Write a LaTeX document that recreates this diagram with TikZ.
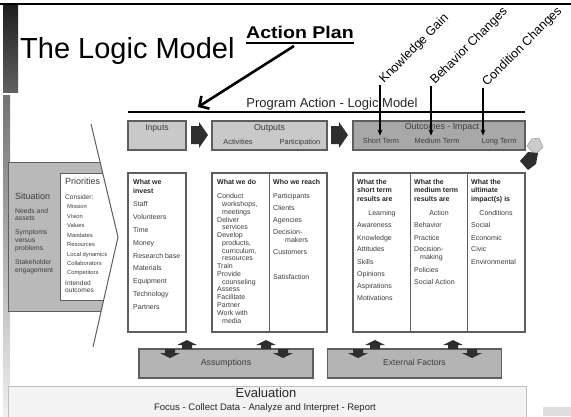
\documentclass[tikz,border=0pt]{standalone}
\usepackage{fontspec}
\setmainfont{Liberation Sans}
\usetikzlibrary{arrows.meta,calc}
\newcommand\fsz[1]{\fontsize{#1}{#1}\selectfont}
\definecolor{txt}{HTML}{3C3C3C}
\definecolor{hdrfill}{HTML}{C9C9C9}
\definecolor{ocfill}{HTML}{A8A8A8}
\definecolor{sitfill}{HTML}{B9B9B9}
\definecolor{asfill}{HTML}{B4B4B4}
\definecolor{edge}{HTML}{5E5E5E}
\definecolor{arrowdk}{HTML}{2E2E2E}
\definecolor{evfill}{HTML}{F3F3F3}
\tikzset{
  itm/.style={font=\fsz{7}, text=txt, anchor=west, inner sep=0pt, text height=5pt, text depth=1.5pt},
  hdg/.style={itm, font=\fsz{7}\bfseries, text=black!85},
  ctr/.style={itm, anchor=center},
  sml/.style={itm, font=\fsz{5.8}},
  hbox/.style={draw=edge, line width=1.1pt, fill=hdrfill, minimum height=29pt, inner sep=0pt},
  cbox/.style={draw=edge, line width=1.1pt, fill=white, minimum height=159pt, inner sep=0pt},
  abox/.style={draw=edge, line width=1.1pt, fill=asfill, minimum height=29pt, minimum width=174pt, inner sep=0pt},
  outl/.style={draw=edge, line width=1pt},
  varrow/.style={line width=1.4pt, -{Stealth[length=6pt,width=5pt]}},
  uparr/.pic={\fill[arrowdk] (-10,5) -- (0,0) -- (10,5) -- (5,5) -- (5,9) -- (-5,9) -- (-5,5) -- cycle;},
  dnarr/.pic={\fill[arrowdk] (-5,0) -- (5,0) -- (5,4) -- (10,4) -- (0,9) -- (-10,4) -- (-5,4) -- cycle;}
}
\begin{document}
\begin{tikzpicture}[x=1pt,y=-1pt]
\useasboundingbox[fill=white] (0,0) rectangle (571,416);

% slide frame: side bars and top rule
\shade[top color=black!88, bottom color=black!62] (3,5) rectangle (18,92);
\shade[top color=black!55, bottom color=black!6] (3,95) rectangle (10,416);
\draw[line width=2pt] (0,4) -- (571,4);

% title and the plan label
\node[font=\fsz{29}, anchor=base west, inner sep=0pt] (title) at (20,58) {The Logic Model};
\node[font=\fsz{17}\bfseries, anchor=base west, inner sep=0pt] (ap) at (246,38) {\scalebox{1.15}[1]{Action Plan}};
\draw[line width=2pt] ([yshift=-5pt]ap.base west) -- ([yshift=-5pt]ap.base east);

% program action heading and rule
\node[font=\fsz{13}, anchor=base, inner sep=0pt, text=black!85] (pa) at (332,107) {Program Action - Logic Model};
\coordinate (pl) at (128,112);
\coordinate (pr) at (525,112);
\draw[line width=1.8pt] (pl) -- (pr);
\coordinate (apstart) at (294,46);
\coordinate (apend) at (198,107);
\draw[line width=2.6pt, -{Straight Barb[length=7pt,width=15pt]}] (apstart) -- (apend);

% header row
\node[hbox, minimum width=58pt] (inph) at (157,135.5) {};
\node[hbox, minimum width=115pt] (outh) at (269.5,135.5) {};
\node[hbox, minimum width=172pt, fill=ocfill] (och) at (439,135.5) {};
\fill[arrowdk] (191,126) -- (199,126) -- (199,122) -- (208,135) -- (199,148) -- (199,144) -- (191,144) -- cycle;
\fill[arrowdk] (331,126) -- (339,126) -- (339,122) -- (348,135) -- (339,148) -- (339,144) -- (331,144) -- cycle;
\node[ctr, font=\fsz{8.6}] (tin) at (157,129) {Inputs};
\node[ctr, font=\fsz{8.8}] (tout) at (269.5,129) {Outputs};
\node[ctr, font=\fsz{7.4}] (tact) at (238,143) {Activities};
\node[ctr, font=\fsz{7.4}] (tpar) at (300,143) {Participation};
\node[ctr, font=\fsz{8.8}] (toc) at (442,128) {Outcomes - Impact};
\node[ctr, font=\fsz{7.4}] (st) at (381,142) {Short Term};
\node[ctr, font=\fsz{7.4}] (mt) at (437,142) {Medium Term};
\node[ctr, font=\fsz{7.4}] (lt) at (499,142) {Long Term};

% change labels with pointers
\node[font=\fsz{12.5}, anchor=base west, inner sep=0pt, rotate=45] (kgl) at (384,84) {Knowledge Gain};
\node[font=\fsz{12.5}, anchor=base west, inner sep=0pt, rotate=45] (bcl) at (435,85) {Behavior Changes};
\node[font=\fsz{12.5}, anchor=base west, inner sep=0pt, rotate=45] (ccl) at (487,87) {Condition Changes};
\coordinate (kg) at (380,85);
\coordinate (bc) at (431,86);
\coordinate (cc) at (483,88);
\draw[varrow, shorten >=3pt] (kg) -- (kg |- st.north);
\draw[varrow, shorten >=3pt] (bc) -- (bc |- mt.north);
\draw[varrow, shorten >=3pt] (cc) -- (cc |- lt.north);

% return chevrons at the right
\filldraw[fill=black!20, draw=black!40, line width=0.5pt] (527,146) -- (532,139) -- (539,138) -- (543,147) -- (535,155) -- cycle;
\fill[arrowdk] (520,161) -- (528,152) -- (538,153) -- (536,164) -- (528,170) -- cycle;

% situation and priorities arrow
\fill[sitfill] (8,162) -- (100.1,162) -- (118,237) -- (101.2,311) -- (8,311) -- cycle;
\fill[white] (60,173) -- (102.7,173) -- (118,237) -- (103.7,300) -- (60,300) -- cycle;
\draw[outl] (100.1,162) -- (8,162) -- (8,311) -- (101.2,311);
\draw[outl] (102.7,173) -- (60,173) -- (60,300) -- (103.7,300);
\draw[outl] (91,124) -- (118,237) -- (93,347);

\node[itm, font=\fsz{9}] (sit) at (15,198) {Situation};
\foreach \t/\y [count=\i] in {Needs and/212, assets/219, Symptoms/233, versus/241, problems/249, Stakeholder/263, engagement/271}
  \node[itm, font=\fsz{6.8}] (sit\i) at (15,\y) {\t};
\node[itm, font=\fsz{9}] (pri) at (65,183) {Priorities};
\node[itm, font=\fsz{6.6}] (con) at (65,198) {Consider:};
\foreach \t/\y [count=\i] in {Mission/207, Vision/217, Values/226, Mandates/236, Resources/245, Local dynamics/255, Collaborators/264, Competitors/273}
  \node[sml] (pri\i) at (67,\y) {\t};
\node[itm, font=\fsz{6.6}] (int1) at (65,284) {Intended};
\node[itm, font=\fsz{6.6}] (int2) at (65,291) {outcomes};

% column boxes
\node[cbox, minimum width=58pt] (incol) at (157,252.5) {};
\node[cbox, minimum width=115pt] (outcol) at (269.5,252.5) {};
\node[cbox, minimum width=172pt] (occol) at (439,252.5) {};
\draw[draw=edge, line width=1.1pt] (outcol.north) -- (outcol.south);
\draw[draw=edge, line width=1.1pt] ($(occol.north west)!1/3!(occol.north east)$) -- ($(occol.south west)!1/3!(occol.south east)$);
\draw[draw=edge, line width=1.1pt] ($(occol.north west)!2/3!(occol.north east)$) -- ($(occol.south west)!2/3!(occol.south east)$);

% inputs column
\node[hdg] (inh1) at (133,183) {What we};
\node[hdg] (inh2) at (133,192) {invest};
\foreach \t/\y [count=\i] in {Staff/205, Volunteers/218, Time/231, Money/244, Research base/257, Materials/269, Equipment/282, Technology/295, Partners/308}
  \node[itm] (inv\i) at (133,\y) {\t};

% outputs columns
\node[hdg] (doh) at (217,183) {What we do};
\foreach \t/\x/\y [count=\i] in {Conduct/217/197, {workshops,}/222/205, meetings/222/213, Deliver/217/221, services/222/228, Develop/217/236, {products,}/222/244, {curriculum,}/222/252, resources/222/259, Train/217/267, Provide/217/275, counseling/222/283, Assess/217/290, Facilitate/217/298, Partner/217/306, Work with/217/314, media/222/322}
  \node[itm] (do\i) at (\x,\y) {\t};
\node[hdg] (whoh) at (273,183) {Who we reach};
\foreach \t/\x/\y [count=\i] in {Participants/273/197, Clients/273/209, Agencies/273/221, Decision-/273/233, makers/285/241, Customers/273/253, Satisfaction/273/278}
  \node[itm] (who\i) at (\x,\y) {\t};

% outcome columns
\foreach \x/\a/\b/\c [count=\j] in {357/What the/short term/results are, 414/What the/medium term/results are, 471/What the/ultimate/impact(s) is}{
  \node[hdg] (och\j a) at (\x,183) {\a};
  \node[hdg] (och\j b) at (\x,191) {\b};
  \node[hdg] (och\j c) at (\x,200) {\c};
}
\node[ctr] (lrn) at (382,214) {Learning};
\node[ctr] (act) at (439,214) {Action};
\node[ctr] (cnd) at (496,214) {Conditions};
\foreach \t/\y [count=\i] in {Awareness/226, Knowledge/239, Attitudes/250, Skills/263, Opinions/275, Aspirations/287, Motivations/299}
  \node[itm] (st\i) at (357,\y) {\t};
\foreach \t/\x/\y [count=\i] in {Behavior/414/226, Practice/414/239, Decision-/414/250, making/420/258, Policies/414/271, Social Action/414/283}
  \node[itm] (mt\i) at (\x,\y) {\t};
\foreach \t/\y [count=\i] in {Social/226, Economic/239, Civic/250, Environmental/263}
  \node[itm] (lt\i) at (471,\y) {\t};

% assumptions and external factors
\node[abox] (asm) at (226,363.5) {};
\node[abox] (ext) at (414.5,363.5) {};
\node[ctr, font=\fsz{8.8}] (asmt) at (226,363.5) {Assumptions};
\node[ctr, font=\fsz{8.6}] (extt) at (414.5,363.5) {External Factors};
\foreach \x in {187,266,375,453} \pic at (\x,340) {uparr};
\foreach \x in {170,283,358,472} \pic at (\x,349) {dnarr};

% evaluation band
\node[draw=black!25, line width=1pt, fill=evfill, anchor=north west, minimum width=518pt, minimum height=40pt, inner sep=0pt] (eval) at (8,386) {};
\node[ctr, font=\fsz{13}, text=black!85] (evt) at (266,396) {Evaluation};
\node[ctr, font=\fsz{9.5}, text=black!85] (evs) at (265,409) {Focus - Collect Data - Analyze and Interpret - Report};
\fill[black!13] (543,407) rectangle (571,416);
\end{tikzpicture}
\end{document}
